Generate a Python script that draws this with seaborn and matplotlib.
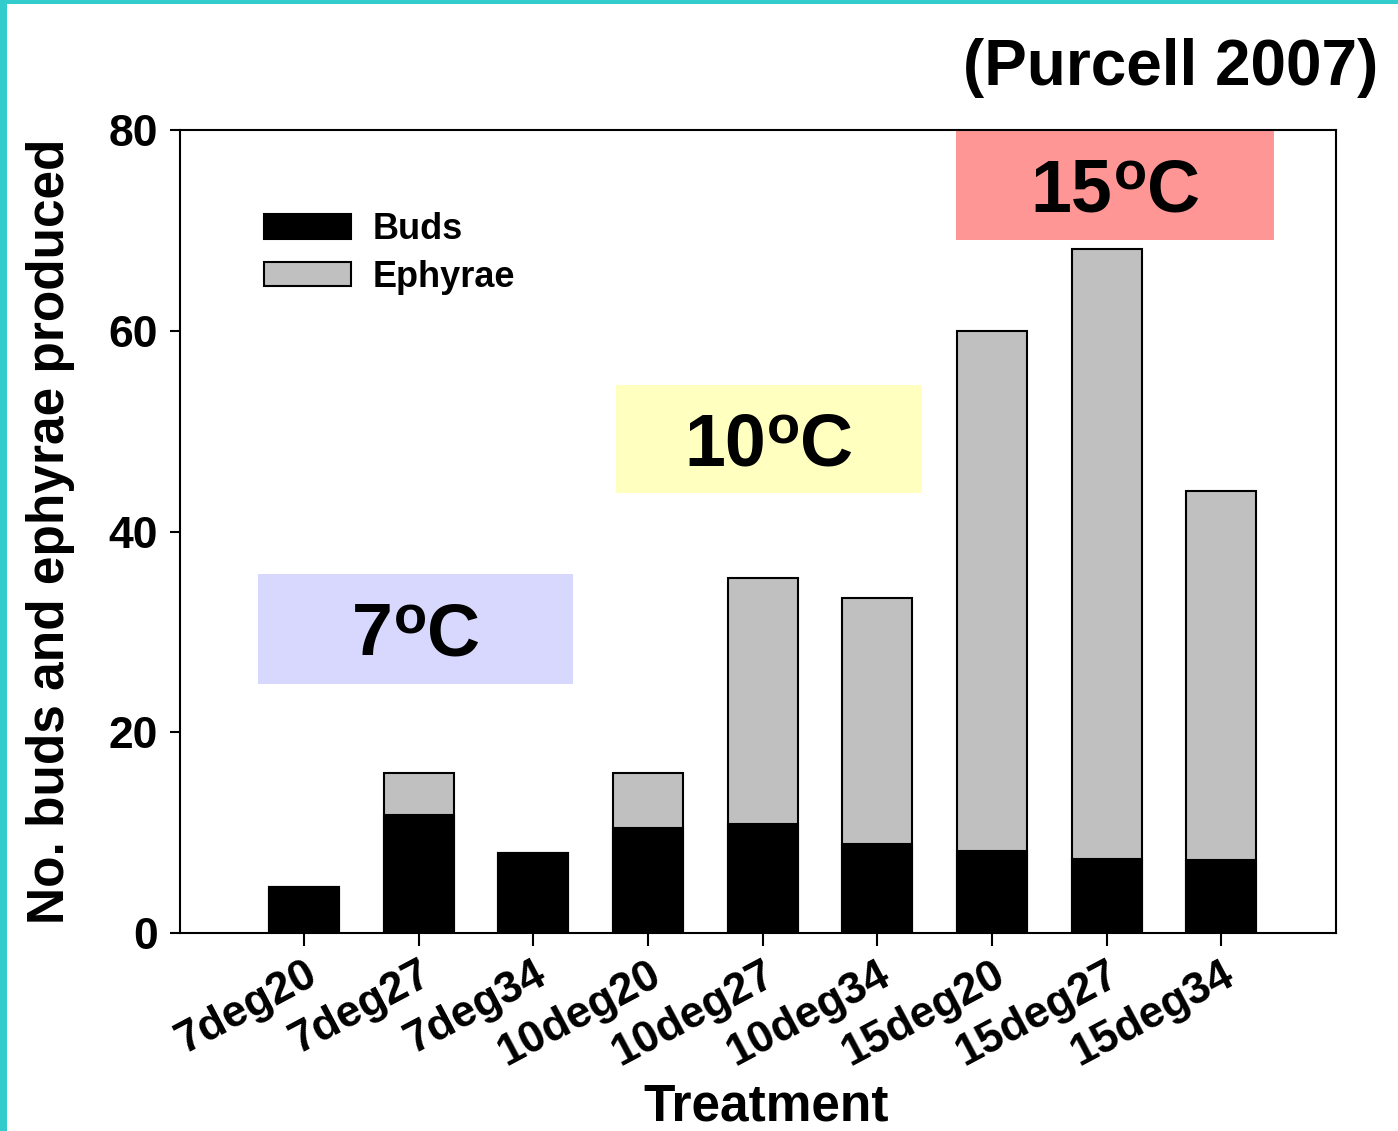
import numpy as np
import pandas as pd
import matplotlib
matplotlib.use("Agg")
import matplotlib.pyplot as plt
from matplotlib.patches import Rectangle
import seaborn as sns

# dados
tratamentos = ["7deg20", "7deg27", "7deg34", "10deg20", "10deg27",
               "10deg34", "15deg20", "15deg27", "15deg34"]
buds = [4.6, 11.8, 8.0, 10.5, 10.9, 8.9, 8.2, 7.4, 7.3]
ephyrae = [0.0, 4.1, 0.0, 5.4, 24.5, 24.5, 51.8, 60.7, 36.7]
temperaturas = ["7", "10", "15"]

sns.set_style("ticks")
plt.rcParams["font.family"] = ["Liberation Sans", "DejaVu Sans"]
plt.rcParams["font.weight"] = "bold"
for chave in ["text.color", "axes.labelcolor", "xtick.color", "ytick.color", "axes.edgecolor"]:
    plt.rcParams[chave] = "black"

df = pd.DataFrame({"tratamento": tratamentos, "buds": buds, "ephyrae": ephyrae})
df["total"] = df["buds"] + df["ephyrae"]

fig = plt.figure(figsize=(13.98, 11.31), dpi=100)
ax = fig.add_axes([180 / 1398, 1 - 933 / 1131, (1336 - 180) / 1398, (933 - 130) / 1131])

# barras empilhadas: total em cinza, buds em preto por cima
sns.barplot(data=df, x="tratamento", y="total", color="#C0C0C0", saturation=1,
            edgecolor="black", linewidth=1.5, width=0.61, ax=ax, label="Ephyrae")
sns.barplot(data=df, x="tratamento", y="buds", color="black", saturation=1,
            edgecolor="black", linewidth=1.5, width=0.61, ax=ax, label="Buds")

ax.set_xlim(-1.08, 9.0)
ax.set_ylim(0, 80)
ax.set_yticks([0, 20, 40, 60, 80])

for s in ax.spines.values():
    s.set_linewidth(1.5)
ax.tick_params(axis="y", direction="out", length=7, width=1.5, labelsize=32, pad=9)
ax.tick_params(axis="x", direction="out", length=9, width=1.5, labelsize=32, pad=6)
plt.setp(ax.get_xticklabels(), rotation=28, ha="right", rotation_mode="anchor",
         fontweight="bold")
plt.setp(ax.get_yticklabels(), fontweight="bold")

ax.set_xlabel("Treatment", fontsize=37, fontweight="bold")
ax.xaxis.set_label_coords(0.507, -0.186)
ax.set_ylabel("No. buds and ephyrae produced", fontsize=37, fontweight="bold")
ax.yaxis.set_label_coords(-0.091, 0.5)

handles, labels = ax.get_legend_handles_labels()
ordem = [labels.index("Buds"), labels.index("Ephyrae")]
ax.legend([handles[i] for i in ordem], [labels[i] for i in ordem],
          loc="upper left", bbox_to_anchor=(264 / 1398, 1 - 212 / 1131),
          bbox_transform=fig.transFigure, frameon=False, fontsize=26,
          handlelength=2.4, handleheight=0.67, handletextpad=0.6,
          labelspacing=0.35, borderpad=0, borderaxespad=0)

# caixas de temperatura
caixas = [(-0.40, 24.8, 2.75, 11.0, "#D8D8FF"),
          (2.72, 43.8, 2.67, 10.8, "#FFFFC0"),
          (5.69, 69.0, 2.77, 11.0, "#FF9696")]
rotulos = []
for (x0, y0, w, h, cor), t in zip(caixas, temperaturas):
    ax.add_patch(Rectangle((x0, y0), w, h, facecolor=cor, edgecolor="none", zorder=0.5))
    yb = y0 + h / 2 - 2.65
    t1 = ax.text(x0 + w / 2, yb, t, ha="left", va="bottom", fontsize=53,
                 fontweight="bold", zorder=3)
    t2 = ax.annotate("o", xy=(1, 0), xycoords=t1, xytext=(1, 19), textcoords="offset points",
                     ha="left", va="bottom", fontsize=39, fontweight="bold", zorder=3)
    t3 = ax.annotate("C", xy=(1, 0), xycoords=t2, xytext=(0, -19), textcoords="offset points",
                     ha="left", va="bottom", fontsize=53, fontweight="bold", zorder=3)
    rotulos.append((t1, t3, x0 + w / 2, yb))

fig.text(1378 / 1398, 1 - 68 / 1131, "(Purcell 2007)", ha="right", va="center",
         fontsize=46, fontweight="bold")

# centrar os rotulos de temperatura nas caixas
fig.canvas.draw()
r = fig.canvas.get_renderer()
for t1, t3, xc, yb in rotulos:
    e1 = t1.get_window_extent(r)
    e3 = t3.get_window_extent(r)
    largura = e3.x1 - e1.x0
    px_c = ax.transData.transform((xc, yb))[0]
    xnovo = ax.transData.inverted().transform((px_c - largura / 2, 0))[0]
    t1.set_position((xnovo, yb))
    t1.set_va("baseline")

# moldura verde-agua
fig.patches.append(Rectangle((0, 0), 7 / 1398, 1, transform=fig.transFigure,
                             facecolor="#33CCCC", edgecolor="none"))
fig.patches.append(Rectangle((0, 1 - 4 / 1131), 1, 4 / 1131, transform=fig.transFigure,
                             facecolor="#33CCCC", edgecolor="none"))

fig.savefig("out.png", dpi=100)
